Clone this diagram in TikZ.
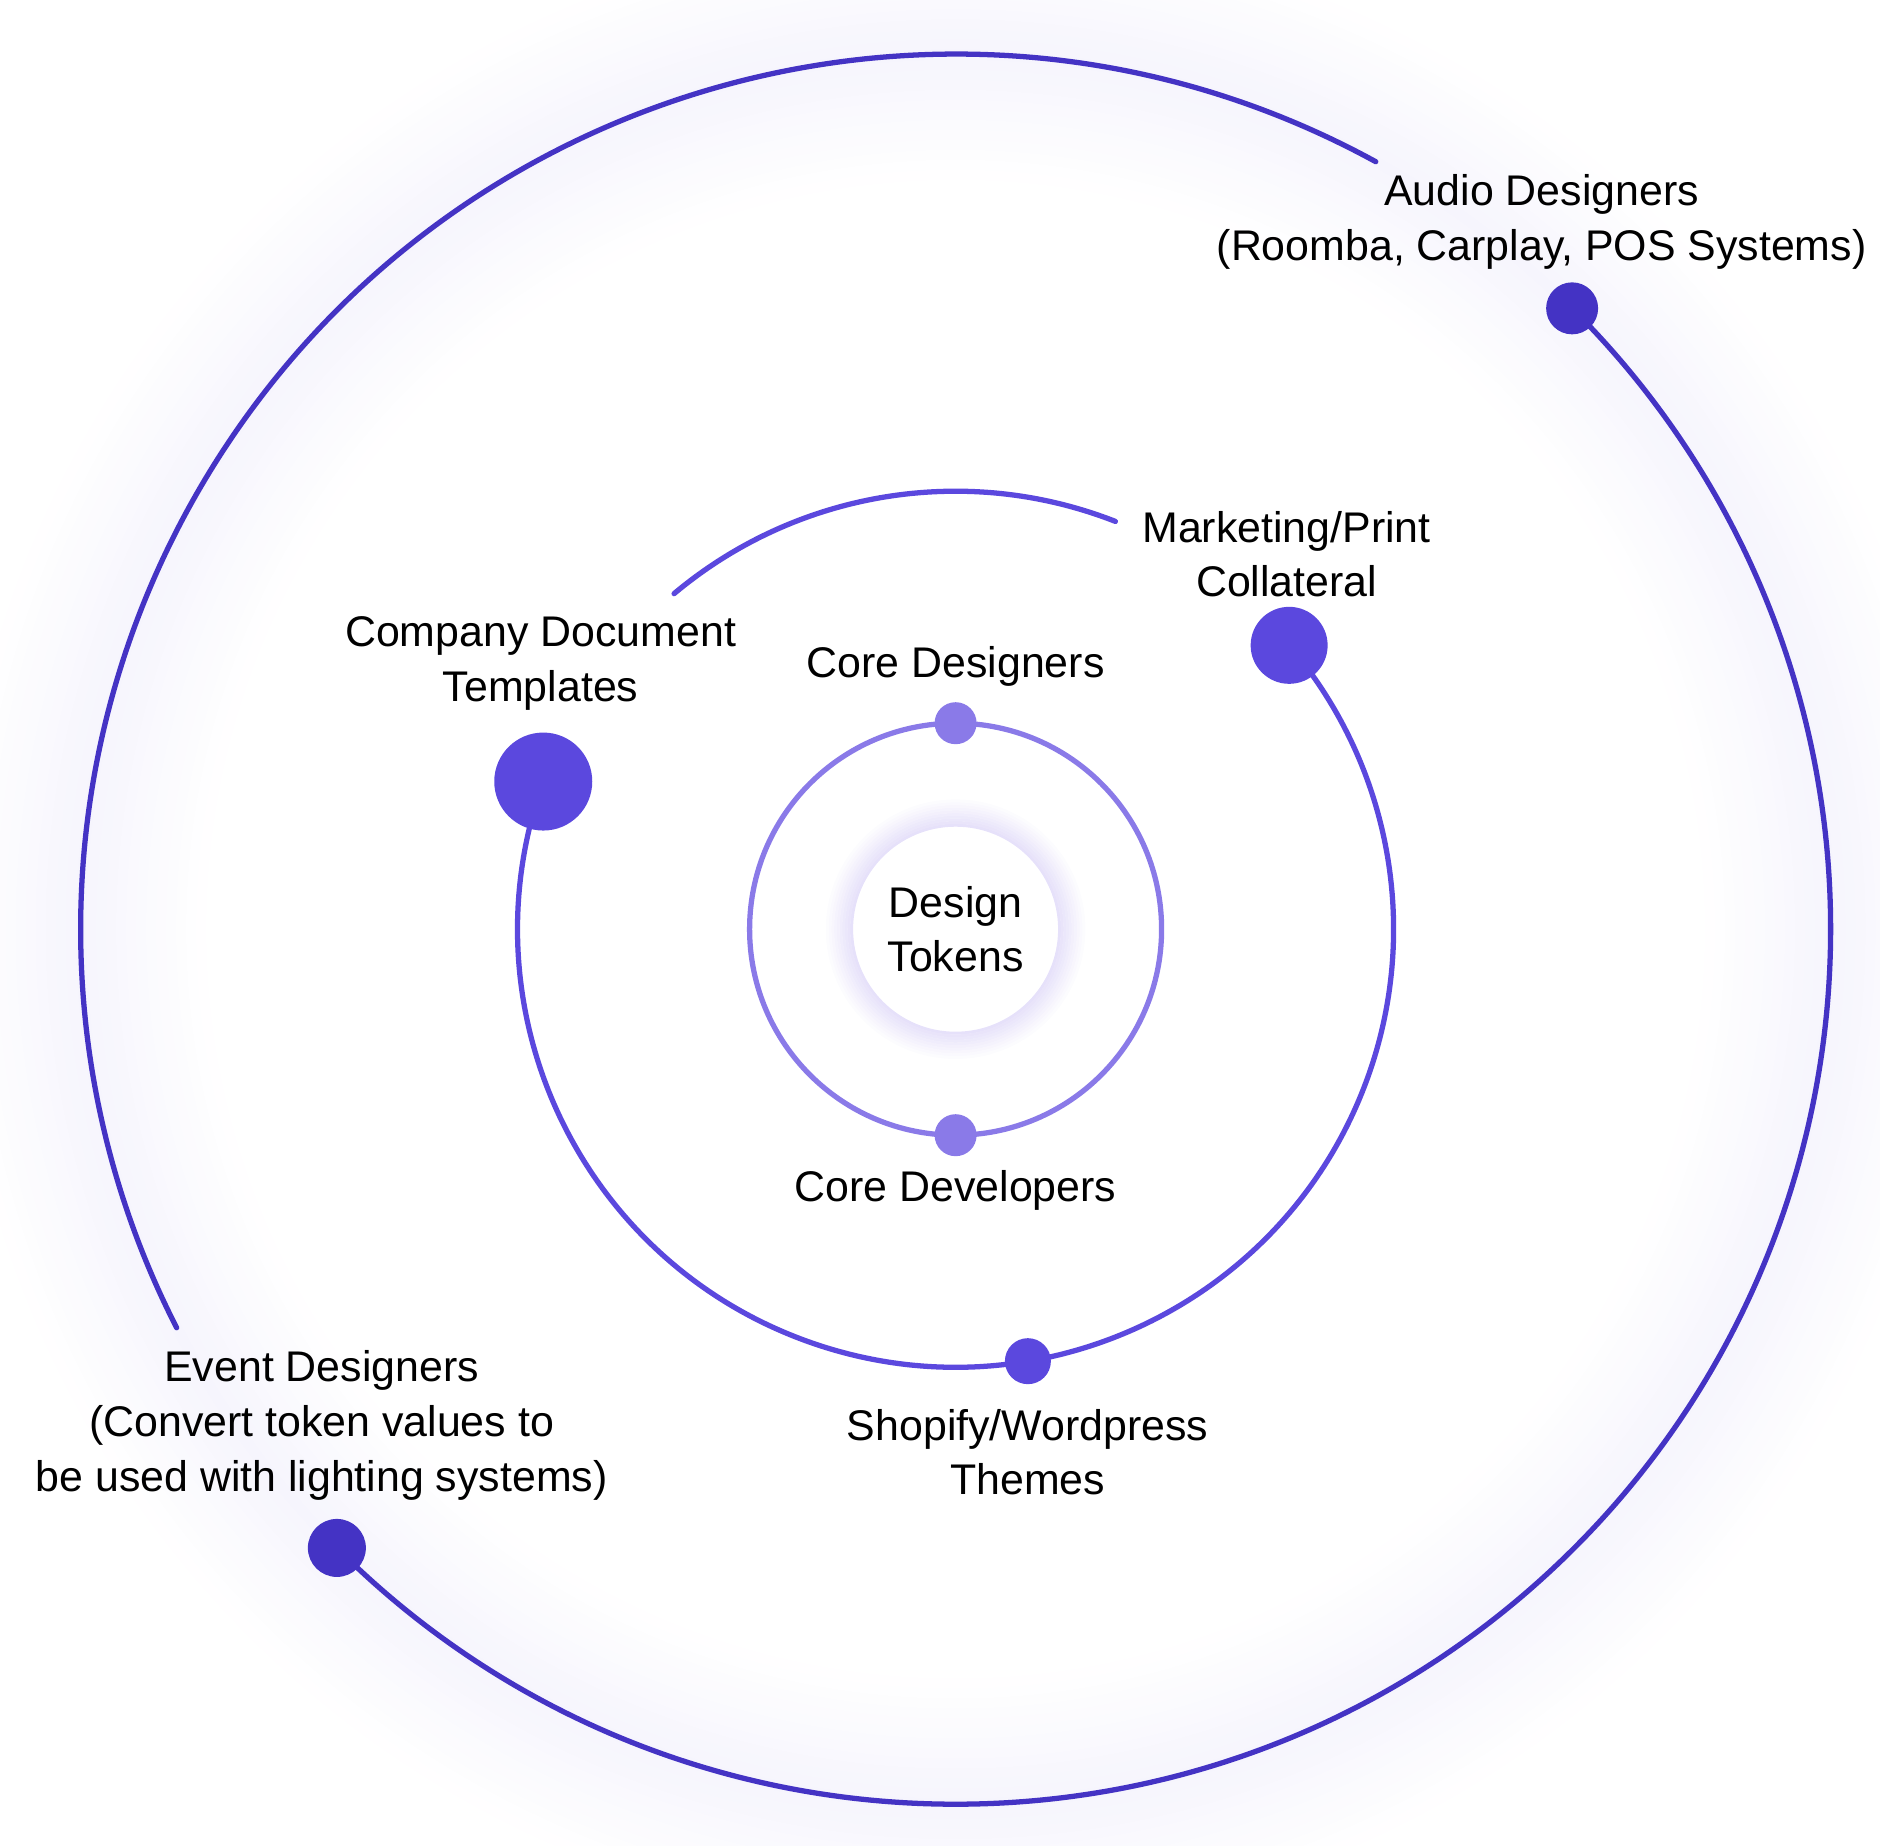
\documentclass[tikz,border=0pt]{standalone}
\usepackage{fontspec}
\setmainfont{Liberation Sans}
\usetikzlibrary{backgrounds}
\definecolor{ringdark}{HTML}{4433C4}
\definecolor{ringmid}{HTML}{5B48DE}
\definecolor{ringlight}{HTML}{8A7AE8}
\definecolor{haze}{HTML}{F6F5FD}
\definecolor{tokenglow}{HTML}{E6E1FA}

\begin{document}
\begin{tikzpicture}[
  every node/.style={font=\fontsize{12.2}{15.6}\selectfont, align=center},
  ring/.style={line width=1.5pt, line cap=round},
  dot/.style={circle, inner sep=0pt, minimum size=#1}
]
  \useasboundingbox (-9.556,-9.158) rectangle (9.244,9.292);

  % Dots
  \node[dot=0.42cm, fill=ringlight] (coredes) at (90:2.06) {};
  \node[dot=0.42cm, fill=ringlight] (coredev) at (270:2.06) {};
  \node[dot=0.98cm, fill=ringmid] (company) at (160.3:4.38) {};
  \node[dot=0.77cm, fill=ringmid] (marketing) at (40.4:4.38) {};
  \node[dot=0.46cm, fill=ringmid] (shopify) at (279.5:4.38) {};
  \node[dot=0.52cm, fill=ringdark] (audio) at (45.2:8.75) {};
  \node[dot=0.58cm, fill=ringdark] (event) at (225:8.75) {};

  % Free arc ends
  \coordinate (outA) at (61.3:8.75);
  \coordinate (midA) at (68.6:4.38);

  % Glow and rings, behind the dots
  \begin{scope}[on background layer]
    \foreach \r in {7.45,7.55,...,10.05} {
      \pgfmathsetmacro\p{max(0,100-abs(\r-8.75)*80)}
      \draw[haze!\p, line width=0.105cm] (0,0) circle[radius=\r];
    }
    \foreach \i in {0,...,9} {
      \pgfmathsetmacro\p{100-\i*10}
      \draw[tokenglow!\p, line width=0.03cm] (0,0) circle[radius=1.04+\i*0.027];
    }
    \draw[ring, ringlight] (coredes.center) arc[start angle=90, end angle=450, radius=2.06];
    \draw[ring, ringmid] (company.center) arc[start angle=160.3, end angle=400.4, radius=4.38];
    \draw[ring, ringmid] (midA) arc[start angle=68.6, end angle=130, radius=4.38];
    \draw[ring, ringdark] (event.center) arc[start angle=225, end angle=405.2, radius=8.75];
    \draw[ring, ringdark] (outA) arc[start angle=61.3, end angle=207.1, radius=8.75];
  \end{scope}

  % Labels
  \node (tokens) at (0,0) {Design\\Tokens};
  \node (coredeslbl) at (0,2.63) {Core Designers};
  \node (coredevlbl) at (0,-2.61) {Core Developers};
  \node (companylbl) at (-4.15,2.66) {Company Document\\Templates};
  \node (marketinglbl) at (3.31,3.75) {Marketing/Print\\Collateral};
  \node (shopifylbl) at (0.72,-5.23) {Shopify/Wordpress\\Themes};
  \node (audiolbl) at (5.86,7.07) {Audio Designers\\(Roomba, Carplay, POS Systems)};
  \node (eventlbl) at (-6.34,-4.96) {Event Designers\\(Convert token values to\\be used with lighting systems)};
\end{tikzpicture}
\end{document}
